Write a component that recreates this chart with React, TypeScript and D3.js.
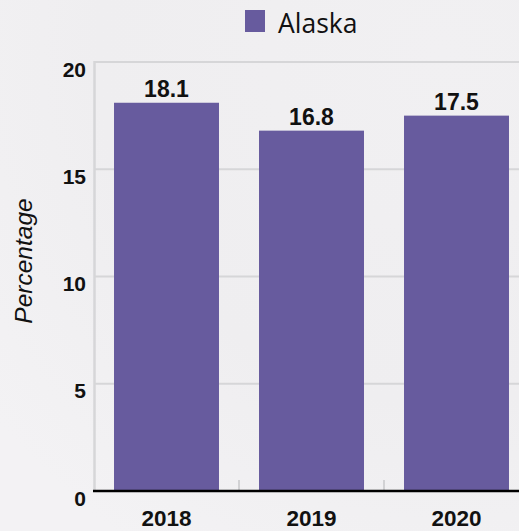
import React from "react";
import * as d3 from "d3";

const categories = ["2018", "2019", "2020"];
const values = [18.1, 16.8, 17.5];
const yTicks = [0, 5, 10, 15, 20];
const seriesName = "Alaska";
const yTitle = "Percentage";

const W = 519;
const H = 531;
const BAR = "#675b9e";
const NUM_FONT = "'Liberation Sans', Arial, Helvetica, sans-serif";

export default function App() {
  const x = d3
    .scaleBand<string>()
    .domain(categories)
    .range([94, 529])
    .paddingInner(0.276)
    .paddingOuter(0.138);
  const y = d3.scaleLinear().domain([0, 20]).range([491, 62]);

  const boundaries = categories
    .slice(1)
    .map((c) => (x(c) as number) - (x.step() - x.bandwidth()) / 2);

  return (
    <svg
      width={W}
      height={H}
      style={{ position: "absolute", left: 0, top: 0 }}
      xmlns="http://www.w3.org/2000/svg"
    >
      <defs>
        <radialGradient id="bg" cx="0.85" cy="0.1" r="1.1">
          <stop offset="0" stopColor="#f1f0f2" />
          <stop offset="0.6" stopColor="#efeef0" />
          <stop offset="1" stopColor="#f3f2f4" />
        </radialGradient>
      </defs>
      <rect x={0} y={0} width={W} height={H} fill="url(#bg)" />

      {/* legend */}
      <rect x={245} y={10} width={20} height={22} fill={BAR} />
      <text
        x={278}
        y={33}
        fontFamily="'Open Sans', sans-serif"
        fontSize={26.5}
        fill="#111"
      >
        {seriesName}
      </text>

      {/* gridlines */}
      {yTicks
        .filter((t) => t !== 0)
        .map((t) => (
          <line
            key={t}
            x1={94}
            x2={W}
            y1={y(t)}
            y2={y(t)}
            stroke="#d6d6d8"
            strokeWidth={2}
          />
        ))}
      {/* left axis line */}
      <line x1={94.5} x2={94.5} y1={61} y2={491} stroke="#d6d6d8" strokeWidth={2.5} />

      {/* x boundary ticks */}
      {boundaries.map((b, i) => (
        <line key={i} x1={b} x2={b} y1={480} y2={491} stroke="#d2d2d4" strokeWidth={2} />
      ))}

      {/* bars */}
      {categories.map((c, i) => (
        <rect
          key={c}
          x={x(c)}
          y={y(values[i])}
          width={x.bandwidth()}
          height={y(0) - y(values[i])}
          fill={BAR}
        />
      ))}

      {/* baseline */}
      <line x1={93} x2={W} y1={491} y2={491} stroke="#000" strokeWidth={2.5} />

      {/* value labels */}
      {categories.map((c, i) => (
        <text
          key={c}
          x={(x(c) as number) + x.bandwidth() / 2}
          y={y(values[i]) - 6}
          textAnchor="middle"
          fontFamily={NUM_FONT}
          fontWeight="bold"
          fontSize={23}
          fill="#111"
        >
          {values[i].toFixed(1)}
        </text>
      ))}

      {/* x labels */}
      {categories.map((c) => (
        <text
          key={c}
          x={(x(c) as number) + x.bandwidth() / 2}
          y={526}
          textAnchor="middle"
          fontFamily={NUM_FONT}
          fontWeight="bold"
          fontSize={22.5}
          fill="#111"
        >
          {c}
        </text>
      ))}

      {/* y tick labels */}
      {yTicks.map((t) => (
        <text
          key={t}
          x={86}
          y={y(t) + 14.5}
          textAnchor="end"
          fontFamily={NUM_FONT}
          fontWeight="bold"
          fontSize={21}
          fill="#111"
        >
          {t}
        </text>
      ))}

      {/* y title */}
      <text
        transform={`translate(32, 261) rotate(-90)`}
        textAnchor="middle"
        fontFamily={NUM_FONT}
        fontStyle="italic"
        fontSize={24.5}
        fill="#111"
      >
        {yTitle}
      </text>
    </svg>
  );
}
